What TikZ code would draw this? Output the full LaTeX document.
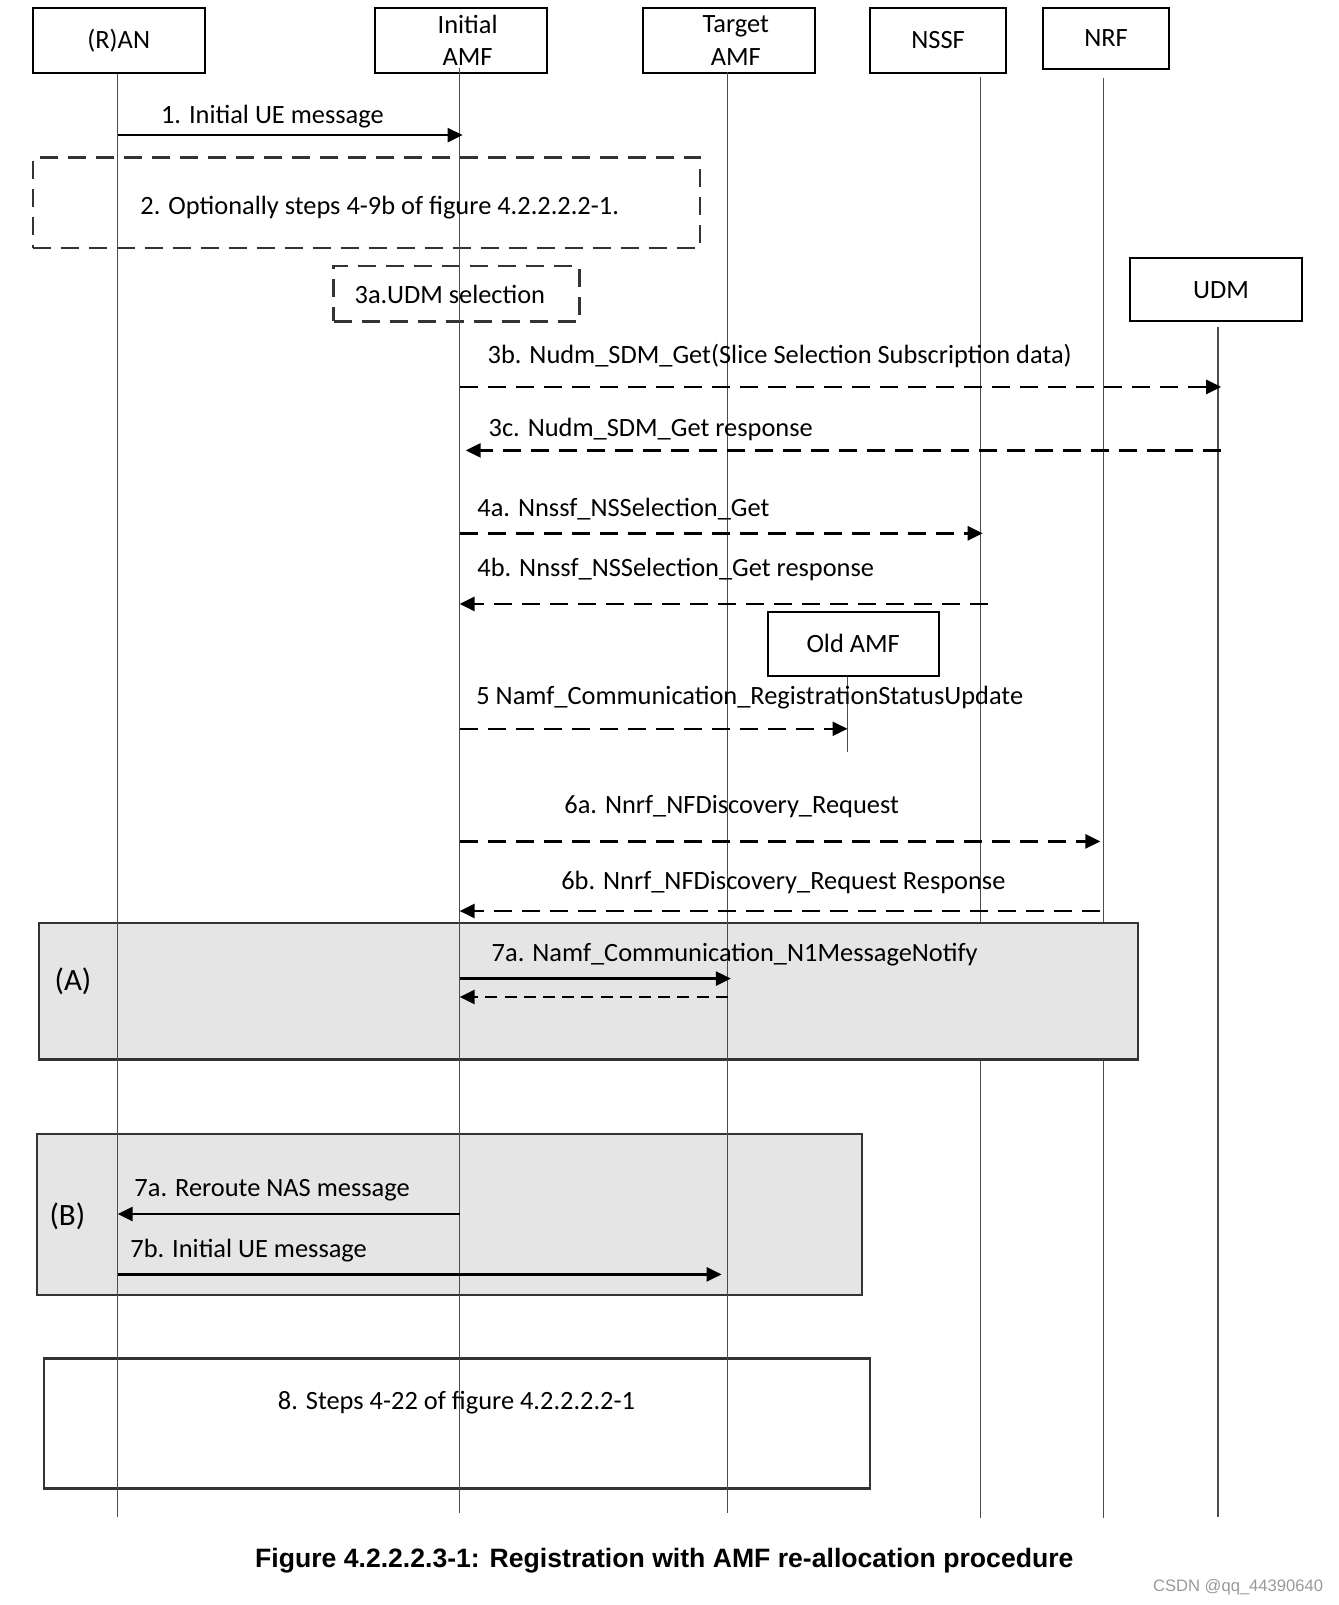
\documentclass[tikz,border=0pt]{standalone}
\usepackage{fontspec}
\setmainfont{Carlito}
\newfontfamily\capfont{Liberation Sans}
\usetikzlibrary{arrows.meta}
\usetikzlibrary{positioning}
\usetikzlibrary{calc}

\newcommand\pxu{0.51185pt}
\newcommand\lblfont{\fontsize{13.2}{16.4}\selectfont}

\begin{document}
\begin{tikzpicture}[x=0.51185pt,y=-0.51185pt,
>={Triangle[length=7.5pt,width=7pt]},
ent/.style={draw,line width=1pt,rectangle,inner sep=0pt,align=center,font=\lblfont},
grp/.style={draw=black!80,line width=1.2pt,rectangle,inner sep=0pt},
life/.style={draw=black!70,line width=0.6pt},
lbl/.style={inner sep=0pt,anchor=west,font=\lblfont},
msg/.style={->,line width=1.3pt},
dmsg/.style={->,line width=1.3pt,dash pattern=on 9pt off 5pt},
smsg/.style={->,line width=1.3pt,dash pattern=on 6pt off 3.6pt}]

\useasboundingbox (0,0) rectangle (1308,1568);

% resztvevok
\node[ent, minimum width=168*\pxu, minimum height=63*\pxu] (ran) at (116,39.5) {(R)AN};
\node[ent, minimum width=168*\pxu, minimum height=63*\pxu] (iamf) at (450,39.5) {\hspace*{7pt}Initial\\\hspace*{7pt}AMF};
\node[ent, minimum width=168*\pxu, minimum height=63*\pxu] (tamf) at (712,39.5) {\hspace*{7pt}Target\\\hspace*{7pt}AMF};
\node[ent, minimum width=133*\pxu, minimum height=63*\pxu] (nssf) at (916.5,39.5) {NSSF};
\node[ent, minimum width=123*\pxu, minimum height=59*\pxu] (nrf) at (1080.5,37.5) {NRF};
\node[ent, minimum width=168*\pxu, minimum height=62*\pxu] (udm) at (1188,283) {\hspace*{5pt}UDM};
\node[ent, minimum width=167*\pxu, minimum height=62*\pxu] (oamf) at (833.5,629) {Old AMF};

% eletvonalak vegei
\coordinate (ranB) at (115,1482);
\coordinate (iamfB) at (449,1478);
\coordinate (tamfB) at (711,1478);
\coordinate (nssfB) at (958,1483);
\coordinate (nrfB) at (1078,1483);
\coordinate (udmB) at (1190,1482);
\coordinate (oamfB) at (828,735);

% NSSF, NRF, UDM vonalak (A doboz alatt)
\draw[life] ($(nssfB |- nssf.south)+(0,3)$) -- (nssfB);
\draw[life] ($(nrfB |- nrf.south)+(0,8)$) -- (nrfB);
\draw[life] ($(udmB |- udm.south)+(0,4)$) -- (udmB);

% keretek
\node[grp, dash pattern=on 9pt off 5pt, minimum width=652*\pxu, minimum height=88*\pxu] (box2) at (358,198) {};
\node[grp, dash pattern=on 9pt off 5pt, minimum width=240*\pxu, minimum height=54*\pxu] (box3a) at (446,287) {};
\node[grp, fill=black!10, minimum width=1074*\pxu, minimum height=133*\pxu] (boxA) at (575,968.5) {};
\node[grp, fill=black!10, minimum width=806*\pxu, minimum height=157*\pxu] (boxB) at (439,1186.5) {};
\node[grp, fill=white, minimum width=807*\pxu, minimum height=127*\pxu] (box8) at (446.5,1390.5) {};

% RAN, AMF vonalak
\draw[life] (ranB |- ran.south) -- (ranB);
\draw[life] ($(iamfB |- iamf.south)+(0,-6)$) -- (iamfB);
\draw[life] ($(tamfB |- tamf.south)+(0,-2)$) -- (tamfB);
\draw[life] (oamfB |- oamf.south) -- (oamfB);

% uzenet szintek
\coordinate (m1) at (0,132);
\coordinate (m3b) at (0,378);
\coordinate (m3c) at (0,440);
\coordinate (m4a) at (0,521);
\coordinate (m4b) at (0,590);
\coordinate (m5) at (0,712);
\coordinate (m6a) at (0,822);
\coordinate (m6b) at (0,890);
\coordinate (m7a) at (0,956);
\coordinate (m7r) at (0,974);
\coordinate (m7n) at (0,1186);
\coordinate (m7b) at (0,1245);

% feliratok
\node[lbl] (t1) at (157,114) {1. Initial UE message};
\node[lbl, anchor=center] (t2) at (371,203) {2. Optionally steps 4-9b of figure 4.2.2.2.2-1.};
\node[lbl, anchor=center] (t3a) at (439.5,288) {3a.UDM selection};
\node[lbl] (t3b) at (476,348) {3b. Nudm\_SDM\_Get(Slice Selection Subscription data)};
\node[lbl] (t3c) at (477,420) {3c. Nudm\_SDM\_Get response};
\node[lbl] (t4a) at (466,497) {4a. Nnssf\_NSSelection\_Get};
\node[lbl] (t4b) at (466,556) {4b. Nnssf\_NSSelection\_Get response};
\node[lbl] (t5) at (465,682) {5 Namf\_Communication\_RegistrationStatusUpdate};
\node[lbl] (t6a) at (551,788) {6a. Nnrf\_NFDiscovery\_Request};
\node[lbl] (t6b) at (548,862) {6b. Nnrf\_NFDiscovery\_Request Response};
\node[lbl] (t7a) at (480,933) {7a. Namf\_Communication\_N1MessageNotify};
\node[lbl, font=\fontsize{15.5}{18}\selectfont] (tA) at (53,959) {(A)};
\node[lbl, font=\fontsize{15.5}{18}\selectfont] (tB) at (48,1188) {(B)};
\node[lbl] (t7n) at (131,1163) {7a. Reroute NAS message};
\node[lbl] (t7b) at (127,1222) {7b. Initial UE message};
\node[lbl, anchor=center] (t8) at (446,1370) {8. Steps 4-22 of figure 4.2.2.2.2-1};

% nyilak
\draw[msg] (ranB |- m1) -- ($(iamfB |- m1)+(3,0)$);
\draw[dmsg] (iamfB |- m3b) -- ($(udmB |- m3b)+(3,0)$);
\draw[dmsg] ($(udmB |- m3c)+(3,0)$) -- ($(iamfB |- m3c)+(6,0)$);
\draw[dmsg] (iamfB |- m4a) -- ($(nssfB |- m4a)+(2,0)$);
\draw[dmsg] ($(nssfB |- m4b)+(7,0)$) -- (iamfB |- m4b);
\draw[dmsg] (iamfB |- m5) -- (oamfB |- m5);
\draw[dmsg] (iamfB |- m6a) -- ($(nrfB |- m6a)+(-3,0)$);
\draw[dmsg] ($(nrfB |- m6b)+(-3,0)$) -- (iamfB |- m6b);
\draw[msg] (iamfB |- m7a) -- ($(tamfB |- m7a)+(3,0)$);
\draw[smsg] (tamfB |- m7r) -- (iamfB |- m7r);
\draw[msg] (iamfB |- m7n) -- (ranB |- m7n);
\draw[msg] (ranB |- m7b) -- ($(tamfB |- m7b)+(-6,0)$);

% alairas
\node[inner sep=0pt, font=\capfont\bfseries\fontsize{13.3}{16}\selectfont] (cap) at (649,1525) {Figure 4.2.2.2.3-1: Registration with AMF re-allocation procedure};
\node[inner sep=0pt, anchor=east, text=black!40, font=\capfont\fontsize{8.3}{10}\selectfont] (wm) at (1293,1551) {CSDN @qq\_44390640};
\end{tikzpicture}
\end{document}
